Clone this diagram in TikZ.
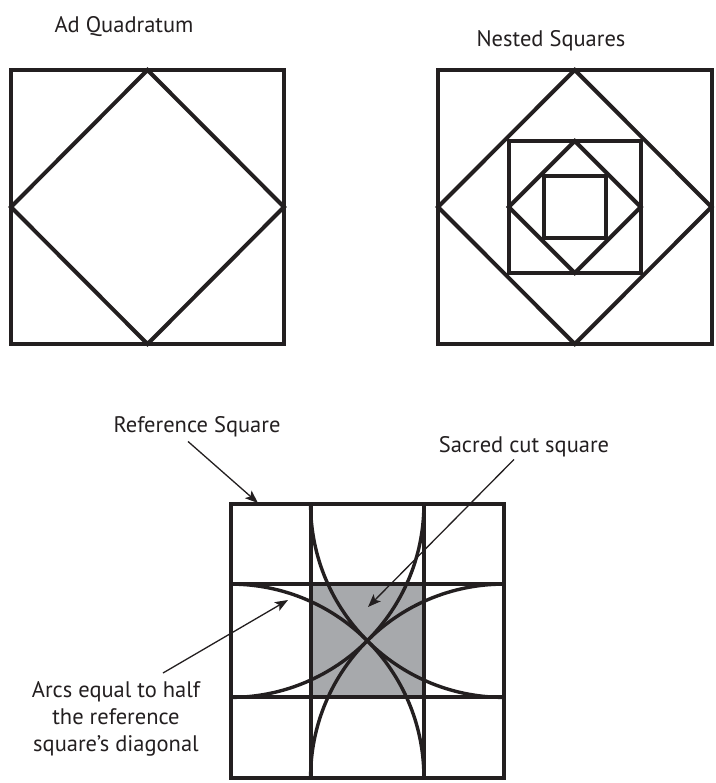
\documentclass[tikz,border=0pt]{standalone}
\usepackage{fontspec}
\setmainfont{PT Sans}
\usetikzlibrary{arrows.meta}
\definecolor{ink}{HTML}{231F20}
\definecolor{cutgray}{HTML}{A7A9AC}
\tikzset{
  fig/.style={draw=ink, line width=4pt},
  thinfig/.style={draw=ink, line width=3.4pt},
  lbl/.style={text=ink, inner sep=0pt, font=\fontsize{22.5}{27}\selectfont, align=center},
  arr/.style={draw=ink, line width=1.3pt, -{Stealth[length=13pt,width=10pt,inset=3pt]}}
}
\begin{document}
\begin{tikzpicture}[x=1pt,y=-1pt]
\useasboundingbox (0,0) rectangle (715,783);
% titles
\node[lbl] (adq) at (124,27) {Ad Quadratum};
\node[lbl] (nest) at (551,41) {Nested Squares};
% Ad Quadratum
\draw[fig] (11,70) rectangle (284,344);
\draw[fig] (147.5,70) -- (284,207) -- (147.5,344) -- (11,207) -- cycle;
% Nested squares
\draw[fig] (438,70) rectangle (711.5,344);
\draw[fig] (574.75,70) -- (711.5,207) -- (574.75,344) -- (438,207) -- cycle;
\draw[fig] (508.75,141) rectangle (640.75,273);
\draw[fig] (574.75,141) -- (640.75,207) -- (574.75,273) -- (508.75,207) -- cycle;
\draw[fig] (543.75,176) rectangle (605.75,238);
% Sacred cut
\fill[cutgray] (310.6,584.1) rectangle (423.9,697.4);
\draw[fig] (310.6,504) -- (310.6,777.5);
\draw[fig] (423.9,504) -- (423.9,777.5);
\draw[fig] (230.5,584.1) -- (504,584.1);
\draw[fig] (230.5,697.4) -- (504,697.4);
\draw[thinfig] (423.9,504) arc[start angle=0, end angle=90, radius=193.4];
\draw[thinfig] (310.6,504) arc[start angle=180, end angle=90, radius=193.4];
\draw[thinfig] (423.9,777.5) arc[start angle=0, end angle=-90, radius=193.4];
\draw[thinfig] (310.6,777.5) arc[start angle=180, end angle=270, radius=193.4];
\draw[fig] (230.5,504) rectangle (504,777.5);
% labels and arrows
\node[lbl] (refl) at (197,427) {Reference Square};
\node[lbl] (sacl) at (524,447) {Sacred cut square};
\node[lbl] (arcl) at (116,719) {Arcs equal to half\\the reference\\square’s diagonal};
\coordinate (t1) at (258,503);
\coordinate (t2) at (368,607);
\coordinate (t3) at (288,600);
\coordinate (s3) at (163,673);
\draw[arr] ([xshift=-9pt,yshift=-4pt]refl.south) -- (t1);
\draw[arr] ([xshift=-10pt,yshift=-2pt]sacl.south) -- (t2);
\draw[arr] (s3) -- (t3);
\end{tikzpicture}
\end{document}
